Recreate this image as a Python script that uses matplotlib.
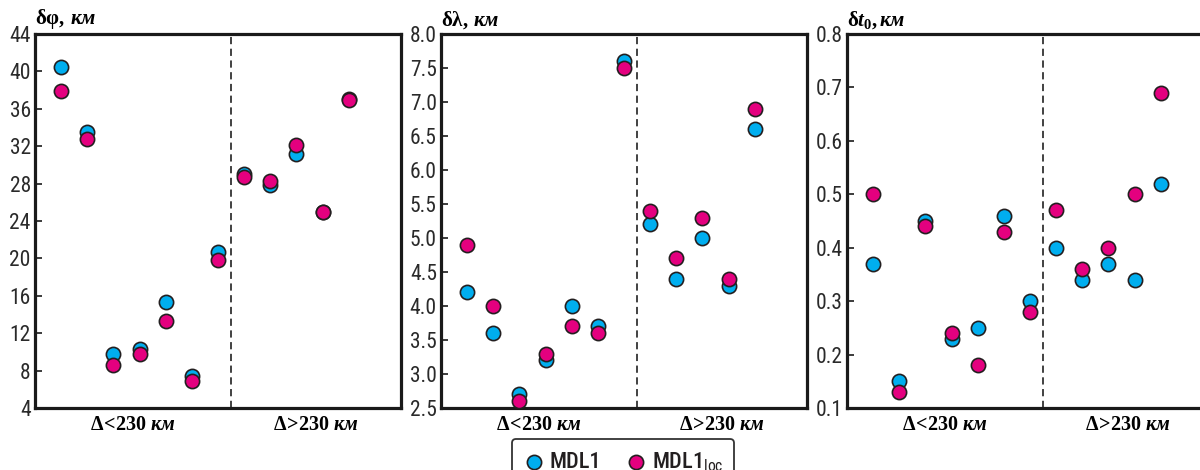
import matplotlib
matplotlib.use('Agg')
import matplotlib.pyplot as plt
import matplotlib.transforms as mtransforms
from matplotlib import font_manager as fm

flist = fm.fontManager.ttflist
names = {f.name for f in flist}
SANS_PROPS = {'family': 'Roboto'}
if 'Liberation Sans Narrow' in names:
    SANS_PROPS = {'family': 'Liberation Sans Narrow'}
elif 'Roboto Condensed' in names:
    SANS_PROPS = {'family': 'Roboto Condensed'}
elif any(f.name == 'DejaVu Sans' and f.stretch in ('condensed', 'semi-condensed', 500) for f in flist):
    SANS_PROPS = {'family': 'DejaVu Sans', 'stretch': 'condensed'}
SERIF = 'Liberation Serif' if 'Liberation Serif' in names else 'DejaVu Serif'

plt.rcParams['mathtext.fontset'] = 'custom'
plt.rcParams['mathtext.rm'] = f'{SERIF}:bold'
plt.rcParams['mathtext.it'] = f'{SERIF}:italic:bold'
plt.rcParams['mathtext.bf'] = f'{SERIF}:bold'
plt.rcParams['mathtext.sf'] = SANS_PROPS['family']

# ---------------- data ----------------
positions = list(range(12))
series_names = ['MDL1', r'MDL1$_{\mathsf{loc}}$']
group_labels = [r'$\Delta\!{<}\!230\ \mathit{км}$', r'$\Delta\!{>}\!230\ \mathit{км}$']

dphi_mdl1 = [40.5, 33.5, 9.8, 10.3, 15.3, 7.4, 20.7, 29.0, 27.8, 31.2, 25.0, 37.1]
dphi_loc  = [37.9, 32.8, 8.6, 9.8, 13.3, 6.9, 19.8, 28.7, 28.3, 32.1, 25.0, 36.9]

dlam_mdl1 = [4.2, 3.6, 2.7, 3.2, 4.0, 3.7, 7.6, 5.2, 4.4, 5.0, 4.3, 6.6]
dlam_loc  = [4.9, 4.0, 2.6, 3.3, 3.7, 3.6, 7.5, 5.4, 4.7, 5.3, 4.4, 6.9]

dt0_mdl1 = [0.37, 0.15, 0.45, 0.23, 0.25, 0.46, 0.30, 0.40, 0.34, 0.37, 0.34, 0.52]
dt0_loc  = [0.50, 0.13, 0.44, 0.24, 0.18, 0.43, 0.28, 0.47, 0.36, 0.40, 0.50, 0.69]

titles = [r'$\mathrm{δφ,}\,\mathit{км}$',
          r'$\mathrm{δλ,}\,\mathit{км}$',
          r'$\mathrm{δ}\mathit{t}_{0}\mathrm{,}\,\mathit{км}$']
yticks_list = [list(range(4, 45, 4)),
               [2.5, 3.0, 3.5, 4.0, 4.5, 5.0, 5.5, 6.0, 6.5, 7.0, 7.5, 8.0],
               [0.1, 0.2, 0.3, 0.4, 0.5, 0.6, 0.7, 0.8]]
yfmt = ['{:.0f}', '{:.1f}', '{:.1f}']
panels = [(dphi_mdl1, dphi_loc), (dlam_mdl1, dlam_loc), (dt0_mdl1, dt0_loc)]

BLUE = '#00AEEF'
MAGENTA = '#E4007F'
EDGE = '#231F20'

fig = plt.figure(figsize=(12, 4.7), dpi=100)
W, H = 1200.0, 470.0
lefts = [35, 441, 847]
top_px, bot_px = 34, 408
width_px = 366

handles = None
for i, (ys, ((a, b))) in enumerate(zip(yticks_list, panels)):
    ax = fig.add_axes([lefts[i] / W, 1 - bot_px / H, width_px / W, (bot_px - top_px) / H])
    ax.set_xlim(-1, 13)
    ax.set_ylim(ys[0], ys[-1])
    ax.axvline(6.5, color='#333333', lw=1.3, ls=(0, (4, 2.5)), zorder=1)
    h1 = ax.scatter(positions, a, s=105, color=BLUE, edgecolor=EDGE, linewidth=1.2, zorder=3)
    h2 = ax.scatter(positions, b, s=105, color=MAGENTA, edgecolor=EDGE, linewidth=1.2, zorder=4)
    handles = (h1, h2)
    for sp in ax.spines.values():
        sp.set_linewidth(2.3)
        sp.set_color('#1a1a1a')
    ax.set_xticks([])
    ax.set_yticks(ys)
    ax.set_yticklabels([yfmt[i].format(v) for v in ys], fontsize=15.5, color='#2a2a2a', **SANS_PROPS)
    ax.tick_params(axis='y', direction='in', length=5, width=1.2, pad=3, color='#1a1a1a')
    ax.text(0, 1.008, titles[i], transform=ax.transAxes, ha='left', va='bottom', fontsize=15)
    trans = mtransforms.blended_transform_factory(ax.transData, ax.transAxes)
    ax.text(2.75, -0.045, group_labels[0], transform=trans, ha='center', va='center', fontsize=14.5)
    ax.text(9.75, -0.045, group_labels[1], transform=trans, ha='center', va='center', fontsize=14.5)

leg_prop = dict(SANS_PROPS)
leg_prop['size'] = 16
leg_prop['weight'] = 'medium'
leg = fig.legend(handles, series_names, loc='upper center',
                 bbox_to_anchor=(623 / W, 1 - 439 / H), ncol=2, borderaxespad=0,
                 prop=leg_prop, frameon=True, fancybox=True,
                 handletextpad=0.2, columnspacing=1.1, borderpad=0.5,
                 handlelength=1.0, scatterpoints=1)
fr = leg.get_frame()
fr.set_edgecolor('#333333')
fr.set_linewidth(1.3)
fr.set_alpha(1)
for t in leg.get_texts():
    t.set_color('#231F20')

fig.savefig('out.png', dpi=100)
